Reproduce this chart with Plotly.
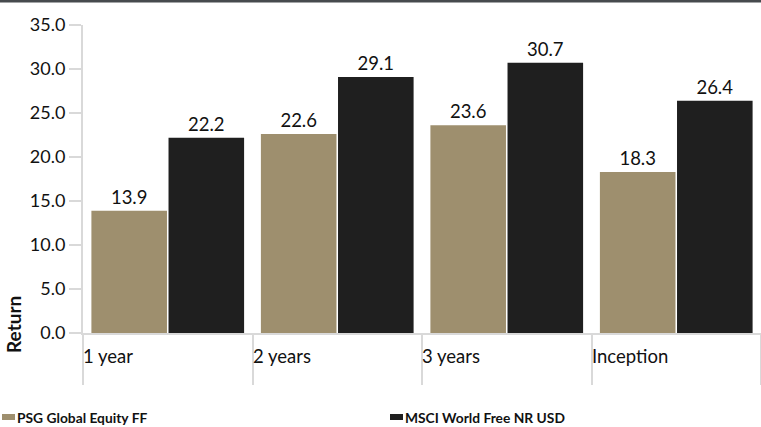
import plotly.graph_objects as go

categories = ["1 year", "2 years", "3 years", "Inception"]
fund_name = "PSG Global Equity FF"
bench_name = "MSCI World Free NR USD"
fund_values = [13.9, 22.6, 23.6, 18.3]
bench_values = [22.2, 29.1, 30.7, 26.4]
y_ticks = [0, 5, 10, 15, 20, 25, 30, 35]
y_title = "Return"
fund_color = "#9e8f6e"
bench_color = "#1f1f1f"

FONT = "Lato"
W, H = 761, 427
L, R, T, B = 83, 0, 25, 94
PW, PH = W - L - R, H - T - B


def px_x(p):
    return (p - L) / PW


def px_y(p):
    return (T + PH - p) / PH


fig = go.Figure()
for name, vals, col in [(fund_name, fund_values, fund_color),
                        (bench_name, bench_values, bench_color)]:
    fig.add_trace(go.Bar(
        x=categories, y=vals, name=name,
        marker=dict(color=col, line=dict(width=0)),
        text=[f"{v:.1f}" for v in vals], textposition="outside",
        textfont=dict(family=FONT, size=18.5, color="#111111"), cliponaxis=False,
    ))

annotations = []
for i, c in enumerate(categories):
    annotations.append(dict(
        x=i - 0.5, xref="x", y=px_y(356), yref="paper",
        text=c, showarrow=False, xanchor="left", yanchor="middle",
        font=dict(family=FONT, size=18.5, color="#111111"), xshift=-2,
    ))
annotations.append(dict(
    x=px_x(13), xref="paper", y=px_y(325), yref="paper",
    text=f"<b>{y_title}</b>", showarrow=False, textangle=-90,
    xanchor="center", yanchor="middle",
    font=dict(family=FONT, size=19, color="#111111"),
))

shapes = [dict(
    type="rect", xref="paper", yref="paper",
    x0=px_x(0), x1=px_x(W + 2), y0=px_y(2.5), y1=px_y(-2),
    fillcolor="#464a4e", line=dict(width=0), layer="above",
)]

# manual legend
legend_items = [(fund_name, fund_color, 2), (bench_name, bench_color, 390)]
for name, col, x0 in legend_items:
    shapes.append(dict(
        type="rect", xref="paper", yref="paper",
        x0=px_x(x0), x1=px_x(x0 + 13), y0=px_y(420), y1=px_y(414),
        fillcolor=col, line=dict(width=0),
    ))
    annotations.append(dict(
        x=px_x(x0 + 13), xref="paper", y=px_y(417.5), yref="paper",
        text=f"<b>{name}</b>", showarrow=False, xanchor="left", yanchor="middle",
        font=dict(family=FONT, size=13.8, color="#111111"),
    ))

fig.update_layout(
    width=W, height=H,
    margin=dict(l=L, r=R, t=T, b=B, pad=0, autoexpand=False),
    paper_bgcolor="white", plot_bgcolor="white",
    barmode="group", bargap=0.09, bargroupgap=0.02,
    showlegend=False,
    xaxis=dict(
        type="category", range=[-0.5, 3.5], tickson="boundaries",
        ticks="outside", ticklen=50, tickwidth=2, tickcolor="#d9d9d9",
        showticklabels=False, showline=True, linecolor="#d9d9d9", linewidth=2,
        showgrid=False, zeroline=False,
    ),
    yaxis=dict(
        range=[0, 35], tickvals=y_ticks, ticktext=[f"{v:.1f}" for v in y_ticks],
        ticks="outside", ticklen=12, tickwidth=2, tickcolor="#d9d9d9",
        showline=True, linecolor="#d9d9d9", linewidth=2,
        showgrid=False, zeroline=False,
        tickfont=dict(family=FONT, size=18, color="#111111"),
    ),
    annotations=annotations,
    shapes=shapes,
)

fig.write_html(
    "out.html",
    config={"displayModeBar": False},
    post_script="document.body.style.margin='0';document.body.style.overflow='hidden';",
)
